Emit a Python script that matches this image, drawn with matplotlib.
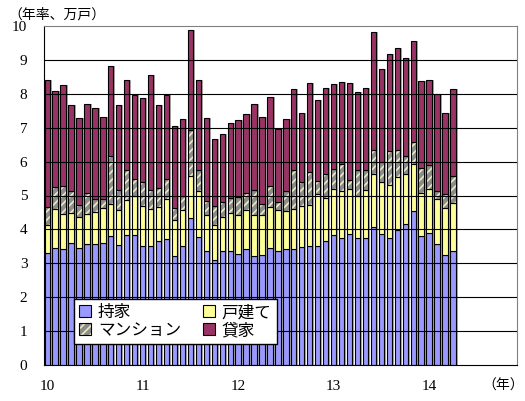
import matplotlib

matplotlib.use("Agg")
import matplotlib.pyplot as plt
import numpy as np
from matplotlib.patches import Patch

# monthly housing starts, annualised (万戸), Jan 2010 - Apr 2014
owner = [3.31, 3.46, 3.43, 3.61, 3.46, 3.58, 3.58, 3.61, 3.80, 3.55, 3.84, 3.84,
         3.51, 3.51, 3.67, 3.73, 3.21, 3.51, 4.34, 3.77, 3.36, 3.10, 3.36, 3.36,
         3.28, 3.42, 3.21, 3.25, 3.46, 3.36, 3.42, 3.42, 3.48, 3.51, 3.51, 3.67,
         3.84, 3.75, 3.87, 3.75, 3.75, 4.06, 3.87, 3.75, 3.99, 4.17, 4.54, 3.80,
         3.90, 3.58, 3.25, 3.36]
detached = [0.83, 1.14, 1.02, 0.88, 0.92, 0.87, 0.94, 1.03, 0.95, 1.03, 1.03, 1.14,
            1.17, 1.09, 0.99, 1.16, 1.08, 1.07, 1.24, 1.35, 1.07, 1.04, 1.02, 1.13,
            1.15, 1.14, 1.21, 1.17, 1.20, 1.20, 1.12, 1.18, 1.20, 1.21, 1.54, 1.27,
            1.35, 1.37, 1.32, 1.23, 1.40, 1.58, 1.52, 1.55, 1.56, 1.46, 1.38, 1.28,
            1.28, 1.32, 1.38, 1.43]
condo = [0.52, 0.65, 0.82, 0.63, 0.34, 0.62, 0.39, 0.27, 1.41, 0.57, 0.87, 0.51,
         0.72, 0.57, 0.57, 0.60, 0.35, 0.40, 1.34, 0.64, 0.40, 0.54, 0.42, 0.45,
         0.52, 0.52, 0.75, 0.33, 0.61, 0.24, 0.58, 1.14, 0.71, 0.98, 0.37, 0.68,
         0.60, 0.80, 0.28, 0.76, 0.59, 0.69, 0.60, 1.01, 0.80, 0.53, 0.66, 0.74,
         0.72, 0.22, 0.42, 0.78]
rental = [3.76, 2.82, 2.98, 2.54, 2.57, 2.64, 2.68, 2.42, 2.67, 2.51, 2.68, 2.46,
          2.47, 3.37, 2.43, 2.47, 2.42, 2.28, 2.96, 2.66, 2.46, 1.99, 2.02, 2.20,
          2.27, 2.33, 2.54, 2.58, 2.64, 2.17, 2.14, 2.39, 2.05, 2.62, 2.39, 2.55,
          2.49, 2.44, 2.85, 2.32, 2.43, 3.48, 2.73, 2.85, 2.99, 2.91, 2.99, 2.57,
          2.52, 2.86, 2.39, 2.56]
year_labels = ["10", "11", "12", "13", "14"]

plt.rcParams["font.family"] = ["Liberation Serif", "Noto Sans CJK JP"]
plt.rcParams["hatch.linewidth"] = 1.2
JP = ["Noto Sans CJK JP", "DejaVu Sans"]

C_OWN, C_DET, C_CON, C_RENT = "#9999FF", "#FFFF99", "#8C8C8C", "#993366"
C_HATCH = "#ECECC0"

owner, detached, condo, rental = map(np.array, (owner, detached, condo, rental))
x = np.arange(len(owner))
total = owner + detached + condo + rental
w = 0.67

fig = plt.figure(figsize=(5.25, 4.01), dpi=100)
ax = fig.add_axes([44 / 525, 36 / 401, 473 / 525, 339 / 401])

# gray drop shadow to the right of each bar
ax.bar(x + 0.25, total, w, color="#A8A8A8", lw=0, zorder=1)
kw = dict(width=w, edgecolor="black", linewidth=0.8, zorder=2)
ax.bar(x, owner, color=C_OWN, **kw)
ax.bar(x, detached, bottom=owner, color=C_DET, **kw)
b2 = owner + detached
ax.bar(x, condo, bottom=b2, width=w, color=C_CON, edgecolor=C_HATCH,
       hatch="////", linewidth=0, zorder=2)
ax.bar(x, condo, bottom=b2, facecolor="none", **kw)
ax.bar(x, rental, bottom=b2 + condo, color=C_RENT, **kw)

for v in range(1, 10):
    ax.axhline(v, color="black", lw=0.8, zorder=3)

ax.set_ylim(0, 10)
ax.set_xlim(-0.4, 59.05)
ax.set_yticks(range(11))
ax.set_xticks([0, 12, 24, 36, 48])
ax.set_xticklabels(year_labels)
ax.tick_params(axis="x", length=0, pad=11, labelsize=11)
ax.tick_params(axis="y", length=0, pad=12, labelsize=11)
for s in ("top", "right"):
    ax.spines[s].set_color("#808080")
for s in ("left", "bottom"):
    ax.spines[s].set_color("black")

fig.text(8 / 525, 1 - 15 / 401, "（年率、万戸）", family=JP, fontsize=10,
         va="center", ha="left")
fig.text(503 / 525, 1 - 386 / 401, "（年）", family=JP, fontsize=10,
         va="center", ha="center")

handles = [
    Patch(facecolor=C_OWN, edgecolor="black", lw=0.8),
    (Patch(facecolor=C_CON, edgecolor=C_HATCH, hatch="////", lw=0),
     Patch(facecolor="none", edgecolor="black", lw=0.8)),
    Patch(facecolor=C_DET, edgecolor="black", lw=0.8),
    Patch(facecolor=C_RENT, edgecolor="black", lw=0.8),
]
labels = ["持家", "マンション", "戸建て", "貸家"]
leg = ax.legend(handles, labels, ncol=2, loc="lower left",
                bbox_to_anchor=(0.063, 0.062), prop={"family": JP, "size": 12},
                frameon=True, fancybox=False, framealpha=1, edgecolor="black",
                handlelength=0.75, handleheight=0.75, handletextpad=0.4,
                columnspacing=1.3, labelspacing=0.05, borderpad=0.3,
                borderaxespad=0)
leg.get_frame().set_linewidth(1.0)
leg.set_zorder(5)

fig.savefig("out.png", dpi=100)
